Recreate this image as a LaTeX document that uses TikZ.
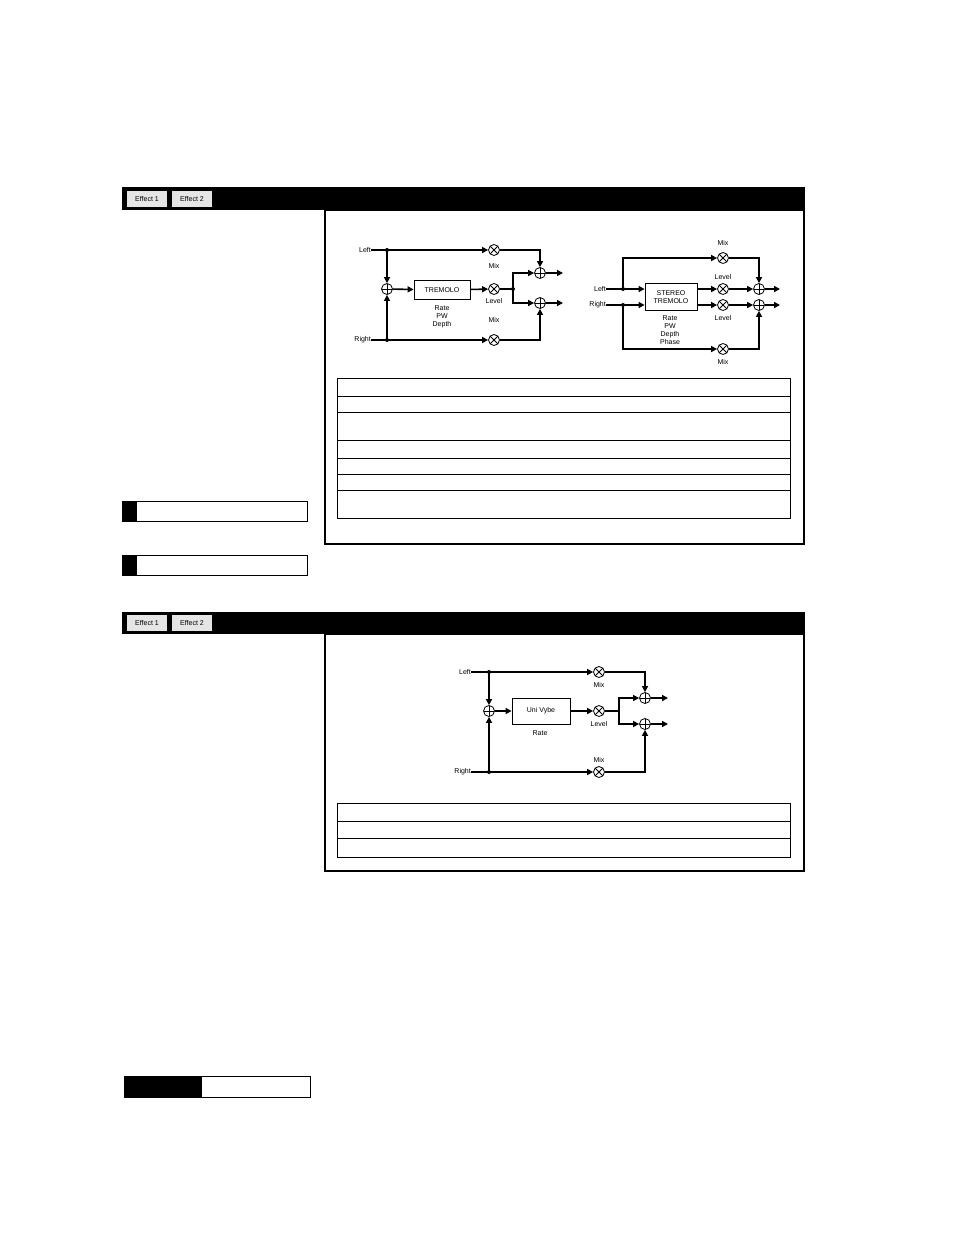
\documentclass[tikz,border=0pt]{standalone}
\usepackage{fontspec}
\setmainfont{Liberation Sans}
\usetikzlibrary{arrows.meta}
\begin{document}
\begin{tikzpicture}[x=1pt,y=-1pt,
  lbl/.style={font=\fontsize{7}{8}\selectfont,inner sep=0,align=center},
  wire/.style={line width=1.6pt,-{Triangle[length=6pt,width=6pt]}},
  ln/.style={line width=1.6pt},
  mult/.style={circle,draw,line width=0.8pt,minimum size=11pt,inner sep=0,fill=white,
    path picture={\draw[line width=0.8pt] (path picture bounding box.north west)--(path picture bounding box.south east) (path picture bounding box.north east)--(path picture bounding box.south west);}},
  summ/.style={circle,draw,line width=0.8pt,minimum size=11pt,inner sep=0,fill=white,
    path picture={\draw[line width=0.8pt] (path picture bounding box.north)--(path picture bounding box.south) (path picture bounding box.east)--(path picture bounding box.west);}},
  dot/.style={circle,fill,inner sep=0,minimum size=4pt},
  blk/.style={draw,line width=0.8pt,fill=white,font=\fontsize{7}{8}\selectfont,align=center,inner sep=1pt},
  btn/.style={draw,fill=gray!20,font=\fontsize{7}{8}\selectfont,inner sep=0,minimum width=41pt,minimum height=17pt},
  frame/.style={draw,line width=1.6pt},
  tab/.style={draw,line width=0.8pt}]
\path[use as bounding box] (0,0) rectangle (954,1235);
% ===== section 1 =====
\fill (122,187) rectangle (805,210);
\node[btn] (b1) at (147,199) {Effect 1};
\node[btn] (b2) at (192,199) {Effect 2};
\draw[frame] (325,210) rectangle (804,544);
\draw[tab] (337,378) rectangle (790,518);
\foreach \y in {396,412,440,458,474,490} \draw[line width=0.8pt] (337,\y)--(790,\y);
\draw[line width=0.8pt] (122,501) rectangle (307,521); \fill (122,501) rectangle (137,521);
\draw[line width=0.8pt] (122,555) rectangle (307,575); \fill (122,555) rectangle (137,575);
% tremolo
\node[lbl,anchor=east] (tl) at (371,250) {Left};
\node[lbl,anchor=east] (tr) at (371,340) {Right};
\coordinate (tjl) at (387,250); \coordinate (tjr) at (387,340);
\node[dot] at (tjl) {}; \node[dot] at (tjr) {};
\node[summ] (ts) at (387,289) {};
\node[blk,minimum width=56pt,minimum height=19pt] (tb) at (442,290) {TREMOLO};
\node[lbl] at (442,317) {Rate\\PW\\Depth};
\node[mult] (tm1) at (494,250) {};
\node[mult] (tm2) at (494,289) {};
\node[mult] (tm3) at (494,340) {};
\node[lbl] at (494,266) {Mix};
\node[lbl] at (494,301) {Level};
\node[lbl] at (494,320) {Mix};
\coordinate (tj2) at (513,289); \node[dot] at (tj2) {};
\node[summ] (ta1) at (540,273) {};
\node[summ] (ta2) at (540,303) {};
\coordinate (to1) at (563,273); \coordinate (to2) at (563,303);
\draw[ln] (tl.east)--(tjl); \draw[wire] (tjl)--(tm1);
\draw[ln] (tr.east)--(tjr); \draw[wire] (tjr)--(tm3);
\draw[wire] (tjl)--(ts); \draw[wire] (tjr)--(ts);
\draw[wire] (ts)--(tb); \draw[wire] (tb)--(tm2);
\draw[ln] (tm2)--(tj2);
\draw[wire] (tj2)|-(ta1); \draw[wire] (tj2)|-(ta2);
\draw[wire] (tm1)-|(ta1); \draw[wire] (tm3)-|(ta2);
\draw[wire] (ta1)--(to1); \draw[wire] (ta2)--(to2);
% stereo tremolo
\node[lbl,anchor=east] (sl) at (606,289) {Left};
\node[lbl,anchor=east] (sr) at (606,305) {Right};
\coordinate (sjl) at (623,289); \coordinate (sjr) at (623,305);
\node[dot] at (sjl) {}; \node[dot] at (sjr) {};
\node[blk,minimum width=52pt,minimum height=27pt] (sb) at (671,297) {STEREO\\TREMOLO};
\node[lbl] at (670,330) {Rate\\PW\\Depth\\Phase};
\node[mult] (sm1) at (723,258) {};
\node[mult] (sm2) at (723,289) {};
\node[mult] (sm3) at (723,305) {};
\node[mult] (sm4) at (723,349) {};
\node[lbl] at (723,243) {Mix};
\node[lbl] at (723,277) {Level};
\node[lbl] at (723,318) {Level};
\node[lbl] at (723,362) {Mix};
\node[summ] (sa1) at (759,289) {};
\node[summ] (sa2) at (759,305) {};
\coordinate (so1) at (780,289); \coordinate (so2) at (780,305);
\draw[ln] (sl.east)--(sjl); \draw[ln] (sr.east)--(sjr);
\draw[wire] (sjl)--(sjl-|sb.west); \draw[wire] (sjr)--(sjr-|sb.west);
\draw[wire] (sjl)|-(sm1); \draw[wire] (sjr)|-(sm4);
\draw[wire] (sm2-|sb.east)--(sm2); \draw[wire] (sm3-|sb.east)--(sm3);
\draw[wire] (sm2)--(sa1); \draw[wire] (sm3)--(sa2);
\draw[wire] (sm1)-|(sa1); \draw[wire] (sm4)-|(sa2);
\draw[wire] (sa1)--(so1); \draw[wire] (sa2)--(so2);
% ===== section 2 =====
\fill (122,612) rectangle (805,634);
\node[btn] (b3) at (147,623) {Effect 1};
\node[btn] (b4) at (192,623) {Effect 2};
\draw[frame] (325,634) rectangle (804,871);
\draw[tab] (337,803) rectangle (790,857);
\foreach \y in {821,838} \draw[line width=0.8pt] (337,\y)--(790,\y);
% univybe
\node[lbl,anchor=east] (ul) at (471,672) {Left};
\node[lbl,anchor=east] (ur) at (471,772) {Right};
\coordinate (ujl) at (489,672); \coordinate (ujr) at (489,772);
\node[dot] at (ujl) {}; \node[dot] at (ujr) {};
\node[summ] (us) at (489,711) {};
\node[blk,minimum width=58pt,minimum height=26pt] (ub) at (541,711) {Uni Vybe};
\node[lbl] at (540,733) {Rate};
\node[mult] (um1) at (599,672) {};
\node[mult] (um2) at (599,711) {};
\node[mult] (um3) at (599,772) {};
\node[lbl] at (599,685) {Mix};
\node[lbl] at (599,724) {Level};
\node[lbl] at (599,760) {Mix};
\coordinate (uj2) at (619,711);
\node[summ] (ua1) at (645,698) {};
\node[summ] (ua2) at (645,724) {};
\coordinate (uo1) at (668,698); \coordinate (uo2) at (668,724);
\draw[ln] (ul.east)--(ujl); \draw[wire] (ujl)--(um1);
\draw[ln] (ur.east)--(ujr); \draw[wire] (ujr)--(um3);
\draw[wire] (ujl)--(us); \draw[wire] (ujr)--(us);
\draw[wire] (us)--(ub); \draw[wire] (ub)--(um2);
\draw[ln] (um2)--(uj2);
\draw[wire] (uj2)|-(ua1); \draw[wire] (uj2)|-(ua2);
\draw[wire] (um1)-|(ua1); \draw[wire] (um3)-|(ua2);
\draw[wire] (ua1)--(uo1); \draw[wire] (ua2)--(uo2);
% bottom bar
\draw[line width=0.8pt] (124,1076) rectangle (310,1097); \fill (124,1076) rectangle (202,1097);
\end{tikzpicture}
\end{document}
